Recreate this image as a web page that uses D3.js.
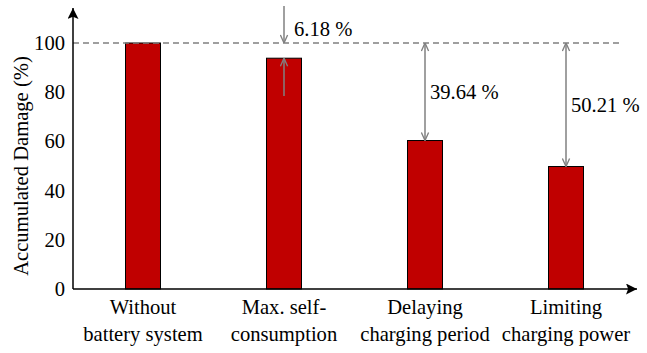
<!DOCTYPE html>
<html>
<head>
<meta charset="utf-8">
<script src="https://cdn.jsdelivr.net/npm/d3@7"></script>
</head>
<body style="margin:0">
<script>
var WIDTH = 647, HEIGHT = 353;
var BAR_COLOR = "#c00000";
var GRAY = "#808080";
var FONT_SIZE = 20.6;

// data
var categories = [["Without", "battery system"], ["Max. self-", "consumption"], ["Delaying", "charging period"], ["Limiting", "charging power"]];
var damage = [100, 93.82, 60.36, 49.79];
var reductionLabels = [null, "6.18 %", "39.64 %", "50.21 %"];
var yTicks = [0, 20, 40, 60, 80, 100];

var svg = d3.select("body").append("svg")
    .attr("width", WIDTH)
    .attr("height", HEIGHT);

var defs = svg.append("defs");
defs.append("marker")
    .attr("id", "axisArrow")
    .attr("viewBox", "0 0 10 10")
    .attr("refX", 10).attr("refY", 5)
    .attr("markerWidth", 11).attr("markerHeight", 11)
    .attr("markerUnits", "userSpaceOnUse")
    .attr("orient", "auto")
    .append("path").attr("d", "M0,0 L10,5 L0,10 L2,5 Z").attr("fill", "#000");
defs.append("marker")
    .attr("id", "grayArrow")
    .attr("viewBox", "0 0 10 10")
    .attr("refX", 10).attr("refY", 5)
    .attr("markerWidth", 9).attr("markerHeight", 9)
    .attr("markerUnits", "userSpaceOnUse")
    .attr("orient", "auto-start-reverse")
    .append("path").attr("d", "M1,1 L10,5 L1,9").attr("fill", "none")
    .attr("stroke", GRAY).attr("stroke-width", 1.5);

var x0 = 73, y0 = 289;
var x = d3.scalePoint().domain(d3.range(categories.length)).range([143, 566]);
var y = d3.scaleLinear().domain([0, 100]).range([y0, 43]);
var BAR_W = 35;

// bars
svg.selectAll(".bar")
  .data(damage)
  .enter()
  .append("rect")
  .attr("class", "bar")
  .attr("x", function(d, i) { return x(i) - BAR_W / 2; })
  .attr("y", function(d) { return y(d); })
  .attr("width", BAR_W)
  .attr("height", function(d) { return y0 - y(d); })
  .attr("fill", BAR_COLOR)
  .attr("stroke", "#000")
  .attr("stroke-width", 1);

// reference line at 100 %
svg.append("line")
  .attr("x1", x0).attr("x2", 620)
  .attr("y1", y(100)).attr("y2", y(100))
  .attr("stroke", GRAY).attr("stroke-width", 1.5)
  .attr("stroke-dasharray", "6,4");

// axes
svg.append("line")
  .attr("x1", x0).attr("x2", x0).attr("y1", y0).attr("y2", 8)
  .attr("stroke", "#000").attr("stroke-width", 1.5)
  .attr("marker-end", "url(#axisArrow)");
svg.append("line")
  .attr("x1", x0).attr("x2", 637).attr("y1", y0).attr("y2", y0)
  .attr("stroke", "#000").attr("stroke-width", 1.5)
  .attr("marker-end", "url(#axisArrow)");

// every label goes through here so the font is set before the text
function label(sel) {
  return sel.append("text")
    .style("font-family", "'Times New Roman'")
    .attr("font-size", FONT_SIZE);
}

yTicks.forEach(function(t) {
  label(svg)
    .attr("x", x0 - 8)
    .attr("y", y(t) + 7)
    .attr("text-anchor", "end")
    .text(t);
});

label(svg)
  .attr("transform", "translate(28," + (y0 + 43) / 2 + ") rotate(-90)")
  .attr("text-anchor", "middle")
  .text("Accumulated Damage (%)");

// category labels, two lines each
categories.forEach(function(c, i) {
  label(svg)
    .attr("x", x(i)).attr("y", 314)
    .attr("text-anchor", "middle")
    .text(c[0]);
  label(svg)
    .attr("x", x(i)).attr("y", 341)
    .attr("text-anchor", "middle")
    .text(c[1]);
});

// reduction arrows
var small = 1; // gap too small for a double arrow: arrows point in from outside
svg.append("line")
  .attr("x1", x(small)).attr("x2", x(small))
  .attr("y1", 6).attr("y2", y(100))
  .attr("stroke", GRAY).attr("stroke-width", 1.5)
  .attr("marker-end", "url(#grayArrow)");
svg.append("line")
  .attr("x1", x(small)).attr("x2", x(small))
  .attr("y1", 96).attr("y2", y(damage[small]))
  .attr("stroke", GRAY).attr("stroke-width", 1.5)
  .attr("marker-end", "url(#grayArrow)");
label(svg)
  .attr("x", x(small) + 10).attr("y", 36)
  .text(reductionLabels[small]);

[2, 3].forEach(function(i) {
  svg.append("line")
    .attr("x1", x(i)).attr("x2", x(i))
    .attr("y1", y(100)).attr("y2", y(damage[i]))
    .attr("stroke", GRAY).attr("stroke-width", 1.5)
    .attr("marker-start", "url(#grayArrow)")
    .attr("marker-end", "url(#grayArrow)");
  label(svg)
    .attr("x", x(i) + 5)
    .attr("y", (y(100) + y(damage[i])) / 2 + 7)
    .text(reductionLabels[i]);
});
</script>
</body>
</html>
